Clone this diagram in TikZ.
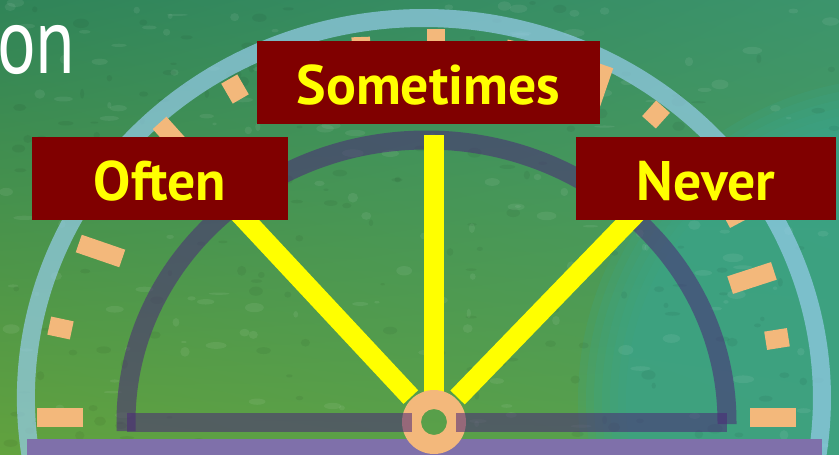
\documentclass[tikz,border=0pt]{standalone}
\usepackage{fontspec}
\setmainfont{PT Sans}
\usepackage{tikz}
\usetikzlibrary{calc,shadings}
\usepackage{xcolor}
\definecolor{bgtl}{RGB}{48,132,88}
\definecolor{bgtr}{RGB}{60,148,108}
\definecolor{bgbl}{RGB}{98,162,62}
\definecolor{bgbr}{RGB}{85,160,80}
\definecolor{chalkteal}{RGB}{58,165,140}
\definecolor{ringblue}{RGB}{150,205,235}
\definecolor{dialpurple}{RGB}{75,40,120}
\definecolor{tickorange}{RGB}{243,184,123}
\definecolor{baseviolet}{RGB}{127,112,170}
\definecolor{boxred}{RGB}{128,0,0}
\definecolor{needleyellow}{RGB}{255,255,0}

\begin{document}
\begin{tikzpicture}[
    x=1pt, y=-1pt,
    answer/.style={fill=boxred, text=needleyellow, inner sep=0pt, minimum height=83pt,
        font=\fontsize{55.7}{60}\selectfont\bfseries, text height=43pt, text depth=0pt},
    tickbar/.style={fill=tickorange, inner sep=0pt, minimum height=18.5pt},
    needle/.style={draw=needleyellow, line width=20pt},
    dial/.style={draw=dialpurple, opacity=0.55, line width=19pt},
]
\useasboundingbox (0,0) rectangle (839,455);
\clip (0,0) rectangle (839,455);

% Chalkboard background
\shade[upper left=bgtl, upper right=bgtr, lower left=bgbl, lower right=bgbr]
    (0,0) rectangle (839,455);
\foreach \r in {322,314,...,274}
    \fill[chalkteal, opacity=0.2] (900,400) circle (\r);
\pgfmathsetseed{11}
\foreach \k in {1,...,170} {
    \fill[white, opacity=0.07] (rnd*839, rnd*455) ellipse ({2+rnd*9} and {1+rnd*4});
    \fill[black, opacity=0.05] (rnd*839, rnd*455) ellipse ({2+rnd*6} and {1+rnd*4});
}

% Title fragment
\node[anchor=base west, inner sep=0pt, text=white, xscale=0.77,
    font=\fontsize{94}{100}\selectfont] (title) at (-3,73) {on};

% Outer ring
\draw[ringblue, opacity=0.7, line width=18pt]
    (32,464) arc[start angle=170, end angle=370, x radius=398, y radius=380];

% Scale marks: x/y/angle/length
\foreach \px/\py/\ang/\len [count=\i] in {
    60/417.5/0/46, 60.5/328/168/23, 100.5/251/161/46, 175/140/132/46,
    235/89/120/23, 361.5/60/92/46, 436/51.5/90/46, 512/64/78/46,
    597/87/71/46, 656/114.5/48/21, 746/209/28/46, 752/278/18/46,
    777/339/9/23, 773/417.5/0/46} {
    \node[tickbar, minimum width=\len pt, rotate=\ang] (t\i) at (\px,\py) {};
}

% Base strip
\fill[baseviolet] (27,439) rectangle (822,460);

% Inner dial
\draw[dial] (126,431) -- (126,422)
    arc[start angle=180, end angle=360, x radius=300.5, y radius=282] -- (727,424);

% Needles
\coordinate (hub) at (434,422);
\coordinate (oftenfoot) at (410.8,397.1);
\coordinate (oftentip) at (231.5,205);
\coordinate (midfoot) at (433.5,395);
\coordinate (midtip) at (433.5,135);
\coordinate (neverfoot) at (457.6,397.5);
\coordinate (nevertip) at (644,205);
\draw[needle] (oftenfoot) -- (oftentip);
\draw[needle] (midfoot) -- (midtip);
\draw[needle] (neverfoot) -- (nevertip);

% Pivot
\fill[tickorange, even odd rule] (hub) circle (32) circle (13);
\draw[dial] (127,422.2) -- (412,422.2);
\draw[dial] (456,422.2) -- (727,422.2);

% Answer boxes
\node[answer, minimum width=256pt] (often) at (160,178.5) {Often};
\node[answer, minimum width=343pt] (sometimes) at (428.5,82.5) {Sometimes};
\node[answer, minimum width=260pt] (never) at (706,178.5) {Never};
\end{tikzpicture}
\end{document}
